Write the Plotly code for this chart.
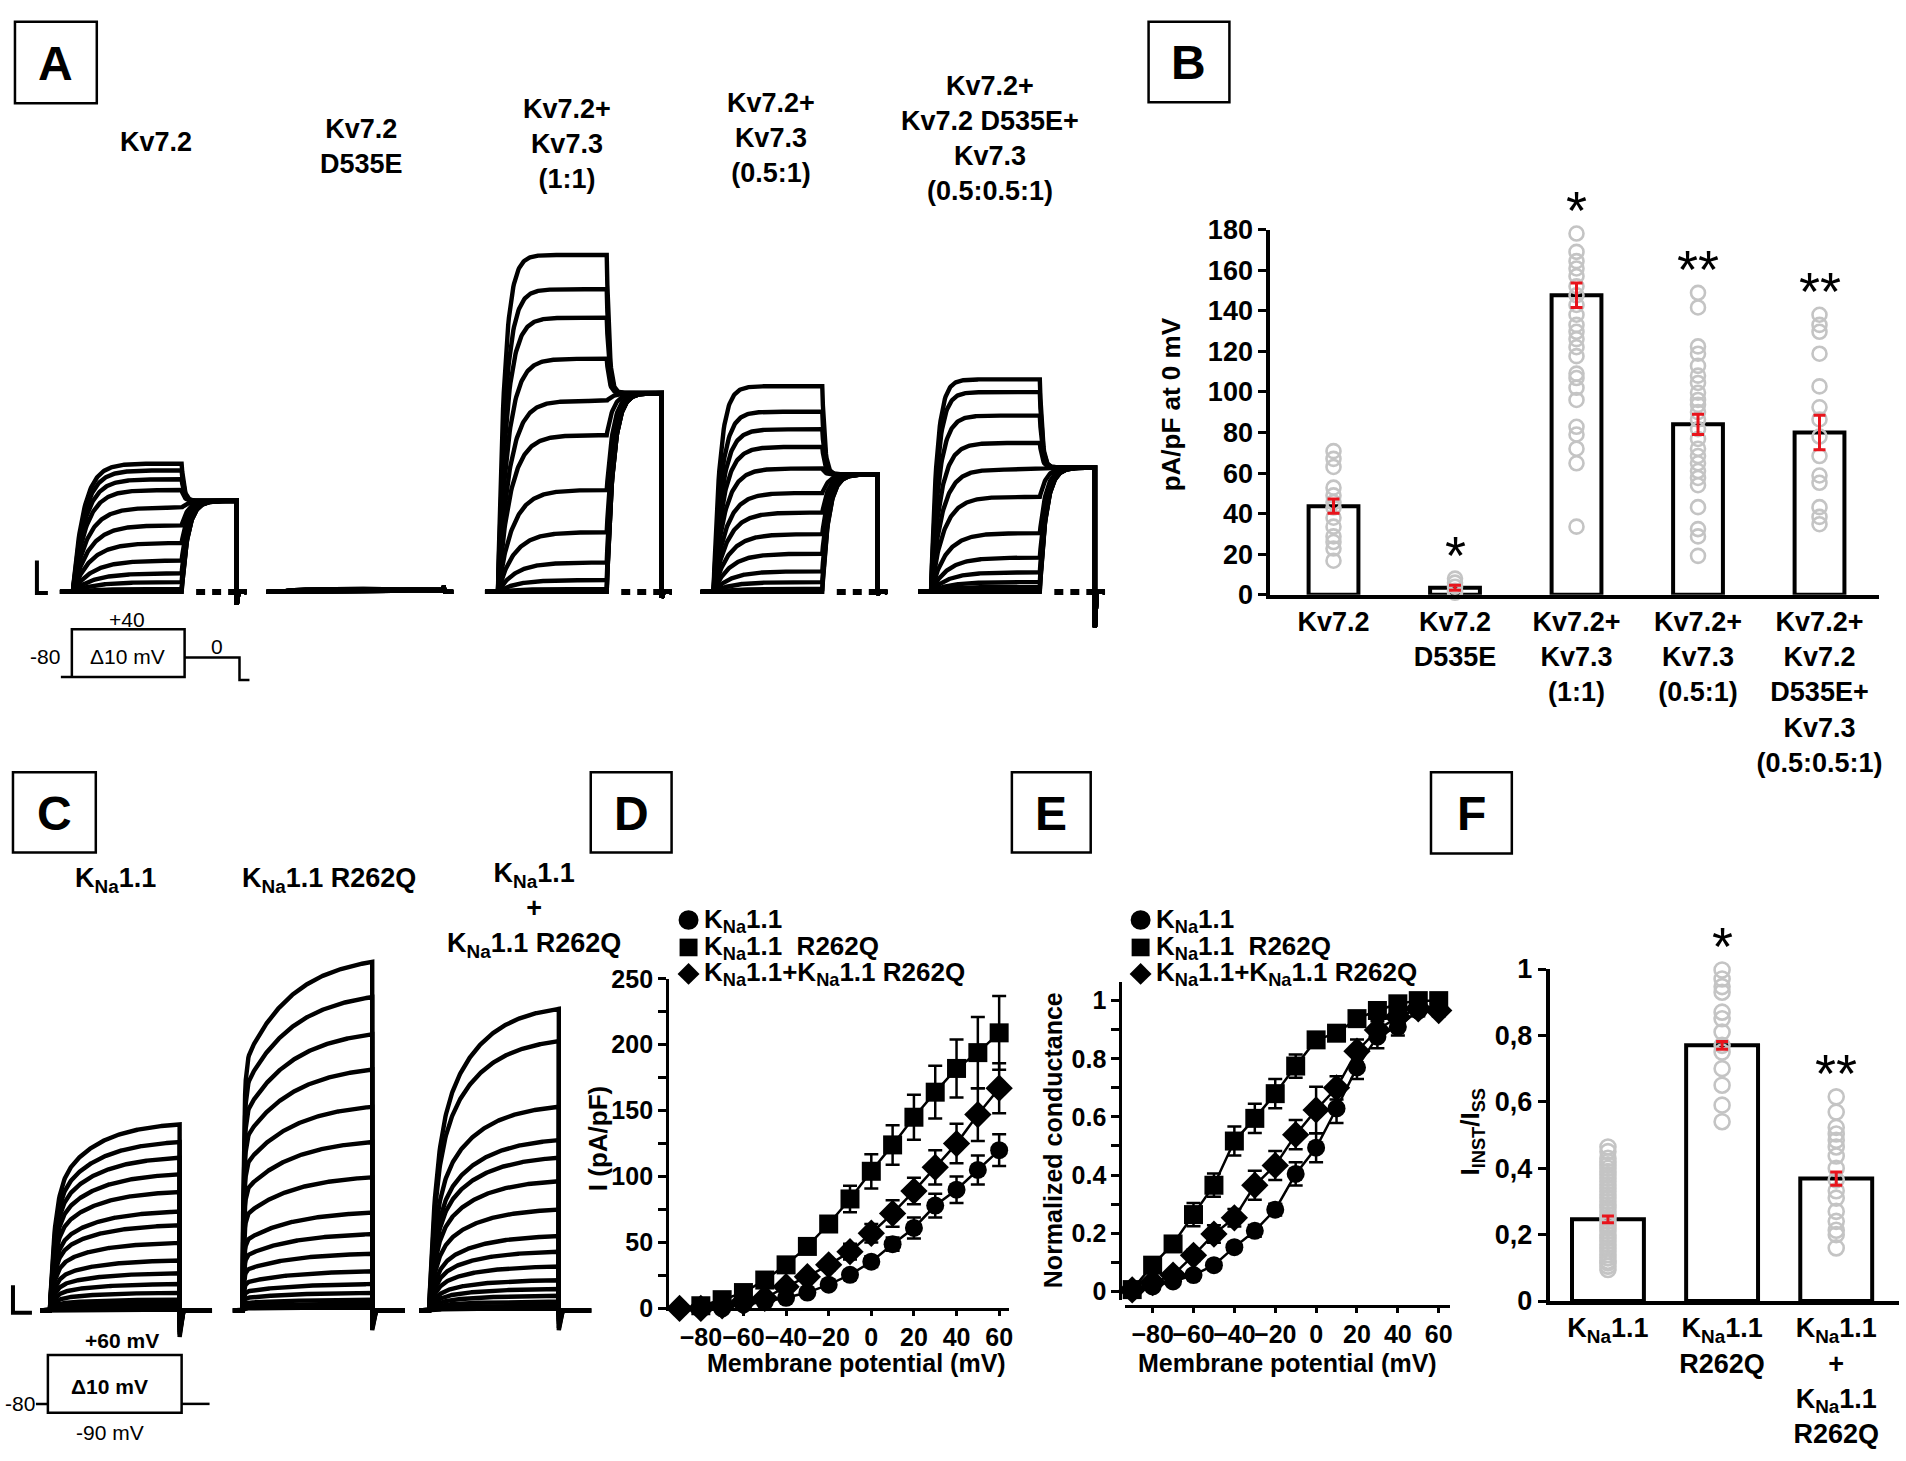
import numpy as np
import plotly.graph_objects as go

W, H = 1906, 1461
FONT = "Liberation Sans, Arial, sans-serif"


def X(p):
    return p / W


def Y(p):
    return 1 - p / H


# ======================= DATA =======================
# ---- Panel A: Kv7 current families (nA); steps -80..+40 mV (10 mV), tail at 0 mV
kv_step_mv = [-80, -70, -60, -50, -40, -30, -20, -10, 0, 10, 20, 30, 40]
kv72_ss = [0, 0, 0.03, 0.10, 0.19, 0.32, 0.50, 0.68, 0.86, 1.04, 1.15, 1.24, 1.31]
kv72_d535e_ss = [0, 0, 0, 0.005, 0.01, 0.01, 0.015, 0.015, 0.02, 0.02, 0.025, 0.03, 0.03]
kv72_73_ss = [0, 0, 0.03, 0.12, 0.30, 0.61, 1.04, 1.60, 1.95, 2.38, 2.80, 3.09, 3.44]
kv72_73_half_ss = [0, 0.03, 0.10, 0.21, 0.39, 0.59, 0.81, 1.01, 1.26, 1.48, 1.66, 1.84, 2.10]
kv_mix_ss = [0, 0.02, 0.05, 0.10, 0.20, 0.35, 0.60, 0.97, 1.25, 1.52, 1.80, 2.04, 2.17]
kv_tail_0mv = [0.93, 0.02, 2.03, 1.20, 1.27]
kv_off_transient = [-0.13, 0.06, -0.06, -0.03, -0.36]
kv_tau_fast_ms = [150, 200, 90, 90, 80]
kv_tau_slow_ms = [300, 200, 250, 250, 250]
kv_titles = ["Kv7.2", "Kv7.2<br>D535E", "Kv7.2+<br>Kv7.3<br>(1:1)",
             "Kv7.2+<br>Kv7.3<br>(0.5:1)", "Kv7.2+<br>Kv7.2 D535E+<br>Kv7.3<br>(0.5:0.5:1)"]

# ---- Panel B: current density at 0 mV (pA/pF)
b_cats = ["Kv7.2", "Kv7.2<br>D535E", "Kv7.2+<br>Kv7.3<br>(1:1)", "Kv7.2+<br>Kv7.3<br>(0.5:1)",
          "Kv7.2+<br>Kv7.2<br>D535E+<br>Kv7.3<br>(0.5:0.5:1)"]
b_means = [43.7, 3.5, 147.6, 84.0, 80.0]
b_sem = [3.5, 1.2, 6.0, 5.0, 8.5]
b_cells = [
    [70.8, 67, 63, 52.8, 49, 45.6, 43, 38, 33.6, 28.8, 26, 22.8, 16.8],
    [8, 6, 4, 2, 1],
    [178, 169, 164.4, 160.8, 157, 152, 147.6, 142.8, 138, 133, 129.6, 126, 122, 117.6,
     109, 106.8, 102, 96, 82.8, 79, 72, 64.8, 33.6],
    [148.8, 141.6, 122.4, 118.8, 112.8, 108, 104.4, 99.6, 96, 93.6, 90, 86.4, 81.6, 76.8,
     72, 68.4, 64.8, 61, 57.6, 54, 43.2, 32.4, 28.8, 19.2],
    [138, 133, 129.6, 118.8, 102.7, 92.4, 86.4, 78, 68.4, 58.8, 55.2, 43.2, 38.4, 34.8],
]
b_stars = ["", "*", "*", "**", "**"]
b_ticks = [0, 20, 40, 60, 80, 100, 120, 140, 160, 180]

# ---- Panel C: KNa1.1 current families (nA); steps -90..+60 mV (10 mV)
kna_step_mv = [-90, -80, -70, -60, -50, -40, -30, -20, -10, 0, 10, 20, 30, 40, 50, 60]
kna_wt = [0.01, 0.03, 0.07, 0.11, 0.18, 0.27, 0.38, 0.51, 0.69, 0.87, 1.01, 1.21, 1.39, 1.56, 1.72, 1.90]
kna_r262q = [0.03, 0.07, 0.11, 0.18, 0.27, 0.40, 0.58, 0.78, 1.00, 1.36, 1.72, 2.08, 2.46, 2.82, 3.20, 3.56]
kna_mix = [0.02, 0.05, 0.09, 0.15, 0.22, 0.31, 0.45, 0.60, 0.76, 1.03, 1.32, 1.56, 1.74, 2.08, 2.75, 3.08]
kna_fast_frac = [0.6, 0.68, 0.5]
kna_tau_fast_ms = [15, 4, 20]
kna_tau_slow_ms = [120, 150, 120]
kna_off_transient = [-0.27, -0.2, -0.2]
kna_titles = ["K<sub>Na</sub>1.1", "K<sub>Na</sub>1.1 R262Q",
              "K<sub>Na</sub>1.1<br>+<br>K<sub>Na</sub>1.1 R262Q"]

# ---- Panel D: I-V (pA/pF)
iv_mv = [-90, -80, -70, -60, -50, -40, -30, -20, -10, 0, 10, 20, 30, 40, 50, 60]
d_wt = [0, 0, 0, 3, 5, 8, 12, 18, 25.5, 35.4, 48.7, 61, 78, 90, 105, 120]
d_wt_err = [1, 1, 1, 1, 1, 1.5, 2, 3, 3.5, 4, 5, 8, 9, 10, 11, 12]
d_mut = [-1, 2, 6.6, 12, 21.5, 33, 47, 64, 83, 104, 124, 145, 164, 182, 194, 209]
d_mut_err = [1, 1, 1.5, 2, 2.5, 3, 4, 5, 10, 13, 15, 17, 20, 22, 27, 28]
d_mix = [0, 0, 2, 5, 7.6, 16.5, 24, 33, 43, 57, 72, 89, 107, 125, 147, 167]
d_mix_err = [1, 1, 1, 1.5, 2, 2.5, 3, 4, 6, 7, 10, 10, 13, 15, 20, 19]

# ---- Panel E: normalized conductance
e_wt = [0.005, 0.017, 0.034, 0.056, 0.09, 0.152, 0.208, 0.281, 0.404, 0.494, 0.629, 0.77, 0.876, 0.91, 0.966, 0.97]
e_wt_err = [0.01, 0.01, 0.01, 0.01, 0.01, 0.015, 0.02, 0.02, 0.04, 0.05, 0.05, 0.04, 0.04, 0.03, 0.02, 0.02]
e_mut = [0.006, 0.09, 0.163, 0.264, 0.365, 0.517, 0.595, 0.68, 0.775, 0.865, 0.888, 0.938, 0.966, 0.989, 1.0, 1.0]
e_mut_err = [0.01, 0.02, 0.02, 0.04, 0.04, 0.05, 0.05, 0.05, 0.04, 0.02, 0.02, 0.02, 0.02, 0.01, 0.01, 0.01]
e_mix = [0.005, 0.03, 0.056, 0.124, 0.197, 0.253, 0.365, 0.433, 0.539, 0.624, 0.70, 0.826, 0.899, 0.944, 0.972, 0.966]
e_mix_err = [0.01, 0.01, 0.01, 0.02, 0.03, 0.03, 0.05, 0.05, 0.05, 0.08, 0.04, 0.04, 0.03, 0.03, 0.02, 0.02]

# ---- Panel F: IINST/ISS
f_cats = ["K<sub>Na</sub>1.1", "K<sub>Na</sub>1.1<br>R262Q",
          "K<sub>Na</sub>1.1<br>+<br>K<sub>Na</sub>1.1<br>R262Q"]
f_means = [0.246, 0.77, 0.369]
f_sem = [0.01, 0.012, 0.02]
f_cells = [
    [0.464, 0.45, 0.43, 0.42, 0.41, 0.40, 0.39, 0.38, 0.37, 0.36, 0.35, 0.34, 0.33, 0.32, 0.31, 0.30,
     0.29, 0.28, 0.27, 0.26, 0.25, 0.24, 0.23, 0.22, 0.21, 0.20, 0.19, 0.18, 0.17, 0.16, 0.15,
     0.14, 0.13, 0.12, 0.115, 0.105, 0.095],
    [0.997, 0.97, 0.947, 0.93, 0.87, 0.85, 0.81, 0.77, 0.75, 0.70, 0.65, 0.59, 0.54],
    [0.615, 0.569, 0.523, 0.503, 0.484, 0.464, 0.437, 0.40, 0.365, 0.332, 0.31, 0.27, 0.24,
     0.213, 0.2, 0.16],
]
f_stars = ["", "*", "**"]
f_ticks = [0, 0.2, 0.4, 0.6, 0.8, 1]
f_ticktext = ["0", "0,2", "0,4", "0,6", "0,8", "1"]

legend_labels = ["K<sub>Na</sub>1.1", "K<sub>Na</sub>1.1  R262Q", "K<sub>Na</sub>1.1+K<sub>Na</sub>1.1 R262Q"]
legend_symbols = ["circle", "square", "diamond"]

# ======================= FIGURE =======================
fig = go.Figure()
annotations = []
shapes = []


def txt(x, y, s, size=27, bold=True, angle=0, xanchor="center", yanchor="middle", family=FONT):
    annotations.append(dict(x=X(x), y=Y(y), xref="paper", yref="paper", text=s, showarrow=False,
                            textangle=angle, xanchor=xanchor, yanchor=yanchor,
                            font=dict(family=family, size=size, color="black",
                                      weight="bold" if bold else "normal")))


def poly(points, width=2.5, fill=None, close=False):
    d = "M " + " L ".join(f"{X(a):.5f},{Y(b):.5f}" for a, b in points) + (" Z" if close else "")
    shp = dict(type="path", path=d, xref="paper", yref="paper", line=dict(color="black", width=width))
    if fill:
        shp["fillcolor"] = fill
    shapes.append(shp)


def box_label(x0, y0, x1, y1, letter):
    shapes.append(dict(type="rect", xref="paper", yref="paper", x0=X(x0), x1=X(x1), y0=Y(y1), y1=Y(y0),
                       line=dict(color="black", width=2.5), fillcolor="white"))
    txt((x0 + x1) / 2, (y0 + y1) / 2 + 1, letter, size=48)


def legend_key(kind, cx, cy):
    if kind == "circle":
        shapes.append(dict(type="circle", xref="paper", yref="paper", x0=X(cx - 10), x1=X(cx + 10),
                           y0=Y(cy + 10), y1=Y(cy - 10), fillcolor="black", line=dict(width=0)))
    elif kind == "square":
        shapes.append(dict(type="rect", xref="paper", yref="paper", x0=X(cx - 9), x1=X(cx + 9),
                           y0=Y(cy + 9), y1=Y(cy - 9), fillcolor="black", line=dict(width=0)))
    else:
        poly([(cx, cy - 11), (cx + 11, cy), (cx, cy + 11), (cx - 11, cy)], width=0, fill="black", close=True)


# ---------- Panel A traces ----------
KV_PRE, KV_STEP, KV_TAIL_END, KV_END = -180.0, 1500.0, 2260.0, 2400.0
kv_sets = [kv72_ss, kv72_d535e_ss, kv72_73_ss, kv72_73_half_ss, kv_mix_ss]
kv_onsets_px = [73, 280, 499, 715, 933]
kv_px_per_ms = 109.0 / 1500.0
kv_xaxes = ["x", "x2", "x3", "x4", "x5"]

for g, amps in enumerate(kv_sets):
    amax = max(amps) if max(amps) > 0 else 1
    xs, ys = [], []
    for a in amps:
        tau = kv_tau_fast_ms[g] + (kv_tau_slow_ms[g] - kv_tau_fast_ms[g]) * (1 - a / amax)
        ts = np.linspace(0, KV_STEP, 150)
        i_step = a * (1 - np.exp(-ts / tau))
        tail = kv_tail_0mv[g]
        tt = np.linspace(0, KV_TAIL_END - KV_STEP, 90)
        tau_t = 35.0 if i_step[-1] > tail else 90.0
        i_tail = tail + (i_step[-1] - tail) * np.exp(-tt / tau_t)
        xs += [KV_PRE, 0] + list(ts) + list(KV_STEP + tt) + [KV_TAIL_END, KV_TAIL_END + 25, KV_END, None]
        ys += [0, 0] + list(i_step) + list(i_tail) + [kv_off_transient[g], 0, 0, None]
    fig.add_trace(go.Scatter(x=xs, y=ys, mode="lines", line=dict(color="black", width=4.4),
                             xaxis=kv_xaxes[g], yaxis="y", showlegend=False, hoverinfo="skip"))
    if g != 1:
        fig.add_trace(go.Scatter(x=[KV_STEP + 200, KV_END], y=[0, 0], mode="lines",
                                 line=dict(color="black", width=6, dash="9px,7px"),
                                 xaxis=kv_xaxes[g], yaxis="y", showlegend=False, hoverinfo="skip"))

# ---------- Panel C traces ----------
KNA_PRE, KNA_STEP, KNA_END = -30.0, 400.0, 500.0
kna_sets = [kna_wt, kna_r262q, kna_mix]
kna_onsets_px = [50, 243, 430]
kna_px_per_ms = 130.0 / 400.0
kna_xaxes = ["x6", "x7", "x8"]
for g, amps in enumerate(kna_sets):
    amax = max(amps)
    f, tf, tsl = kna_fast_frac[g], kna_tau_fast_ms[g], kna_tau_slow_ms[g]
    xs, ys = [], []
    for a in amps:
        ts = np.linspace(0, KNA_STEP, 200)
        gg = f * (1 - np.exp(-ts / tf)) + (1 - f) * (1 - np.exp(-ts / tsl))
        gg = gg / gg[-1]
        xs += [KNA_PRE, 0] + list(ts) + [KNA_STEP, KNA_STEP + 12, KNA_END, None]
        ys += [0, 0] + list(a * gg) + [kna_off_transient[g] * a / amax, 0, 0, None]
    fig.add_trace(go.Scatter(x=xs, y=ys, mode="lines", line=dict(color="black", width=4.4),
                             xaxis=kna_xaxes[g], yaxis="y2", showlegend=False, hoverinfo="skip"))

# ---------- Panel B ----------
GRAY = "#c4c4c4"
fig.add_trace(go.Bar(x=list(range(len(b_cats))), y=b_means, width=0.41, xaxis="x9", yaxis="y3",
                     marker=dict(color="white", line=dict(color="black", width=4)), showlegend=False))
bx, by = [], []
for i, cells in enumerate(b_cells):
    bx += [i] * len(cells)
    by += cells
fig.add_trace(go.Scatter(x=bx, y=by, mode="markers", xaxis="x9", yaxis="y3", cliponaxis=False,
                         marker=dict(symbol="circle-open", size=14, color=GRAY, line=dict(width=2.6, color=GRAY)),
                         showlegend=False))
fig.add_trace(go.Scatter(x=list(range(len(b_cats))), y=b_means, mode="markers", xaxis="x9", yaxis="y3",
                         marker=dict(size=1, color="rgba(0,0,0,0)"),
                         error_y=dict(type="data", array=b_sem, color="#e8141c", thickness=3, width=6),
                         showlegend=False))
for i, s in enumerate(b_stars):
    if s:
        annotations.append(dict(x=i, y=max(b_cells[i]), xref="x9", yref="y3", text=s, showarrow=False,
                                yshift=24, font=dict(family=FONT, size=54, color="black")))

# ---------- Panel F ----------
fig.add_trace(go.Bar(x=list(range(len(f_cats))), y=f_means, width=0.63, xaxis="x12", yaxis="y6",
                     marker=dict(color="white", line=dict(color="black", width=4)), showlegend=False))
fx, fy = [], []
for i, cells in enumerate(f_cells):
    fx += [i] * len(cells)
    fy += cells
fig.add_trace(go.Scatter(x=fx, y=fy, mode="markers", xaxis="x12", yaxis="y6", cliponaxis=False,
                         marker=dict(symbol="circle-open", size=15, color=GRAY, line=dict(width=2.6, color=GRAY)),
                         showlegend=False))
fig.add_trace(go.Scatter(x=list(range(len(f_cats))), y=f_means, mode="markers", xaxis="x12", yaxis="y6",
                         marker=dict(size=1, color="rgba(0,0,0,0)"),
                         error_y=dict(type="data", array=f_sem, color="#e8141c", thickness=3, width=6),
                         showlegend=False))
for i, s in enumerate(f_stars):
    if s:
        annotations.append(dict(x=i, y=max(f_cells[i]), xref="x12", yref="y6", text=s, showarrow=False,
                                yshift=24, font=dict(family=FONT, size=54, color="black")))

# ---------- Panels D and E ----------
series = [
    ("circle", 18, d_wt, d_wt_err, e_wt, e_wt_err),
    ("diamond", 21, d_mix, d_mix_err, e_mix, e_mix_err),
    ("square", 19, d_mut, d_mut_err, e_mut, e_mut_err),
]
for sym, size, dv, de, ev, ee in series:
    fig.add_trace(go.Scatter(x=iv_mv, y=dv, mode="lines+markers", xaxis="x10", yaxis="y4", cliponaxis=False,
                             line=dict(color="black", width=2.5), marker=dict(symbol=sym, size=size, color="black"),
                             error_y=dict(type="data", array=de, color="black", thickness=2.5, width=7),
                             showlegend=False))
    fig.add_trace(go.Scatter(x=iv_mv, y=ev, mode="lines+markers", xaxis="x11", yaxis="y5", cliponaxis=False,
                             line=dict(color="black", width=2.5), marker=dict(symbol=sym, size=size, color="black"),
                             error_y=dict(type="data", array=ee, color="black", thickness=2.5, width=7),
                             showlegend=False))

# ======================= AXES =======================
hidden = dict(visible=False, showgrid=False, zeroline=False, fixedrange=True)
layout_axes = {}
for g, name in enumerate(["xaxis", "xaxis2", "xaxis3", "xaxis4", "xaxis5"]):
    o = kv_onsets_px[g]
    layout_axes[name] = dict(hidden, domain=[X(o + KV_PRE * kv_px_per_ms), X(o + KV_END * kv_px_per_ms)],
                             range=[KV_PRE, KV_END], anchor="y")
A_BASE, A_TOP, A_BOT = 589.0, 180.0, 720.0
layout_axes["yaxis"] = dict(hidden, domain=[Y(A_BOT), Y(A_TOP)],
                            range=[-(A_BOT - A_BASE) / 100, (A_BASE - A_TOP) / 100], anchor="x")
for g, name in enumerate(["xaxis6", "xaxis7", "xaxis8"]):
    o = kna_onsets_px[g]
    layout_axes[name] = dict(hidden, domain=[X(o + KNA_PRE * kna_px_per_ms), X(o + KNA_END * kna_px_per_ms)],
                             range=[KNA_PRE, KNA_END], anchor="y2")
C_BASE, C_TOP, C_BOT = 1322.7, 860.0, 1360.0
layout_axes["yaxis2"] = dict(hidden, domain=[Y(C_BOT), Y(C_TOP)],
                             range=[-(C_BOT - C_BASE) / 100, (C_BASE - C_TOP) / 100], anchor="x6")

tickfont = dict(family=FONT, size=27, color="black", weight="bold")
tickfont_d = dict(family=FONT, size=25, color="black", weight="bold")
# Panel B
layout_axes["xaxis9"] = dict(domain=[X(1273), X(1883)], range=[-0.52, 4.49], anchor="y3",
                             tickvals=list(range(len(b_cats))), ticktext=b_cats, ticks="",
                             showline=True, linecolor="black", linewidth=4, showgrid=False, zeroline=False,
                             tickfont=tickfont, fixedrange=True)
layout_axes["yaxis3"] = dict(domain=[Y(592), Y(219)], range=[0, 180], anchor="x9",
                             tickvals=b_ticks, ticks="outside", ticklen=8, tickwidth=3, tickcolor="black",
                             showline=True, linecolor="black", linewidth=4, showgrid=False, zeroline=False,
                             tickfont=tickfont, fixedrange=True)
# Panel F
layout_axes["xaxis12"] = dict(domain=[X(1553), X(1903)], range=[-0.51, 2.55], anchor="y6",
                              tickvals=list(range(len(f_cats))), ticktext=f_cats, ticks="",
                              showline=True, linecolor="black", linewidth=4, showgrid=False, zeroline=False,
                              tickfont=tickfont, fixedrange=True)
layout_axes["yaxis6"] = dict(domain=[Y(1313), Y(974)], range=[0, 1], anchor="x12",
                             tickvals=f_ticks, ticktext=f_ticktext, ticks="outside", ticklen=8, tickwidth=3,
                             tickcolor="black", showline=True, linecolor="black", linewidth=4, showgrid=False,
                             zeroline=False, tickfont=tickfont, fixedrange=True)
# Panel D
layout_axes["xaxis10"] = dict(domain=[X(670.5), X(1011.5)], range=[-94.9, 64.8], anchor="y4",
                              tickvals=[-80, -60, -40, -20, 0, 20, 40, 60], tickangle=0,
                              ticks="outside", ticklen=5, tickwidth=2.5,
                              tickcolor="black", showline=True, linecolor="black", linewidth=3, showgrid=False,
                              zeroline=False, tickfont=tickfont_d, fixedrange=True)
layout_axes["yaxis4"] = dict(domain=[Y(1320.5), Y(984)], range=[0, 250], anchor="x10",
                             tickvals=[0, 50, 100, 150, 200, 250], ticks="outside", ticklen=8, tickwidth=2.5,
                             tickcolor="black", showline=True, linecolor="black", linewidth=3, showgrid=False,
                             zeroline=False, tickfont=tickfont_d, fixedrange=True,
                             minor=dict(tickvals=[25, 75, 125, 175, 225], ticks="outside", ticklen=8,
                                        tickwidth=2.5, tickcolor="black"))
# Panel E
layout_axes["xaxis11"] = dict(domain=[X(1127), X(1453)], range=[-93.7, 65.5], anchor="free", position=Y(1318),
                              tickvals=[-80, -60, -40, -20, 0, 20, 40, 60], tickangle=0,
                              ticks="outside", ticklen=5, tickwidth=2.5,
                              tickcolor="black", showline=True, linecolor="black", linewidth=3, showgrid=False,
                              zeroline=False, tickfont=tickfont_d, fixedrange=True)
layout_axes["yaxis5"] = dict(domain=[Y(1312), Y(987)], range=[-0.03, 1.065], anchor="free", position=X(1122.7),
                             tickvals=[0, 0.2, 0.4, 0.6, 0.8, 1], ticktext=["0", "0.2", "0.4", "0.6", "0.8", "1"],
                             ticks="outside", ticklen=8, tickwidth=2.5, tickcolor="black", showline=True,
                             linecolor="black", linewidth=3, showgrid=False, zeroline=False, tickfont=tickfont_d,
                             fixedrange=True,
                             minor=dict(tickvals=[0.1, 0.3, 0.5, 0.7, 0.9], ticks="outside", ticklen=8,
                                        tickwidth=2.5, tickcolor="black"))

# ======================= TEXT & DECORATIONS =======================
box_label(15, 7, 97, 90, "A")
box_label(1151, 7, 1232, 89, "B")
box_label(13, 773, 96, 855, "C")
box_label(592, 773, 673, 855, "D")
box_label(1014, 773, 1093, 855, "E")
box_label(1434, 773, 1515, 856, "F")

kv_title_pos = [(156, 130), (362, 134), (568, 132), (773, 126), (992, 126)]
for (cx, cy), s in zip(kv_title_pos, kv_titles):
    txt(cx, cy, s, size=27)
kna_title_pos = [(116, 883), (330, 883), (535, 914)]
for (cx, cy), s in zip(kna_title_pos, kna_titles):
    txt(cx, cy, s, size=27)

# scale bars
poly([(37, 557), (37, 590), (48, 590)], width=4)
poly([(13, 1297), (13, 1325), (32, 1325)], width=4)

# voltage protocol A
poly([(61, 676), (72, 676), (72, 627), (185, 627), (185, 676), (72, 676)], width=2.5)
poly([(185, 656), (240, 656), (240, 679), (250, 679)], width=2.5)
txt(127, 617, "+40", size=21, bold=False)
txt(45, 655, "-80", size=21, bold=False)
txt(128, 655, "\u039410 mV", size=21, bold=False)
txt(217, 645, "0", size=21, bold=False)

# voltage protocol C
poly([(36, 1418), (48, 1418), (48, 1368), (182, 1368), (182, 1427), (48, 1427), (48, 1418)], width=2.5)
poly([(182, 1418), (210, 1418)], width=2.5)
txt(122, 1353, "+60 mV", size=21)
txt(110, 1400, "\u039410 mV", size=21)
txt(20, 1418, "-80", size=21, bold=False)
txt(110, 1447, "-90 mV", size=21, bold=False)

# axis titles
txt(1173, 398, "pA/pF at 0 mV", size=26, angle=-90)
txt(600, 1147, "I (pA/pF)", size=26, angle=-90)
txt(858, 1376, "Membrane potential (mV)", size=25)
txt(1290, 1376, "Membrane potential (mV)", size=25)
txt(1056, 1149, "Normalized conductance", size=25, angle=-90)
txt(1475, 1140, "I<sub>INST</sub>/I<sub>SS</sub>", size=26, angle=-90)

# legends for D and E (key + label)
legend_rows = [924, 952, 979]
for key_x in (690, 1143):
    for ry, kind, lab in zip(legend_rows, legend_symbols, legend_labels):
        legend_key(kind, key_x, ry)
        txt(key_x + 13, ry, lab, size=26, xanchor="left")

fig.update_layout(
    width=W, height=H, margin=dict(l=0, r=0, t=0, b=0),
    paper_bgcolor="white", plot_bgcolor="rgba(0,0,0,0)",
    font=dict(family=FONT, color="black"),
    showlegend=False, annotations=annotations, shapes=shapes,
    **layout_axes,
)
fig.write_html("out.html", config={"displayModeBar": False},
               post_script="document.body.style.margin='0px';document.body.style.overflow='hidden';")
